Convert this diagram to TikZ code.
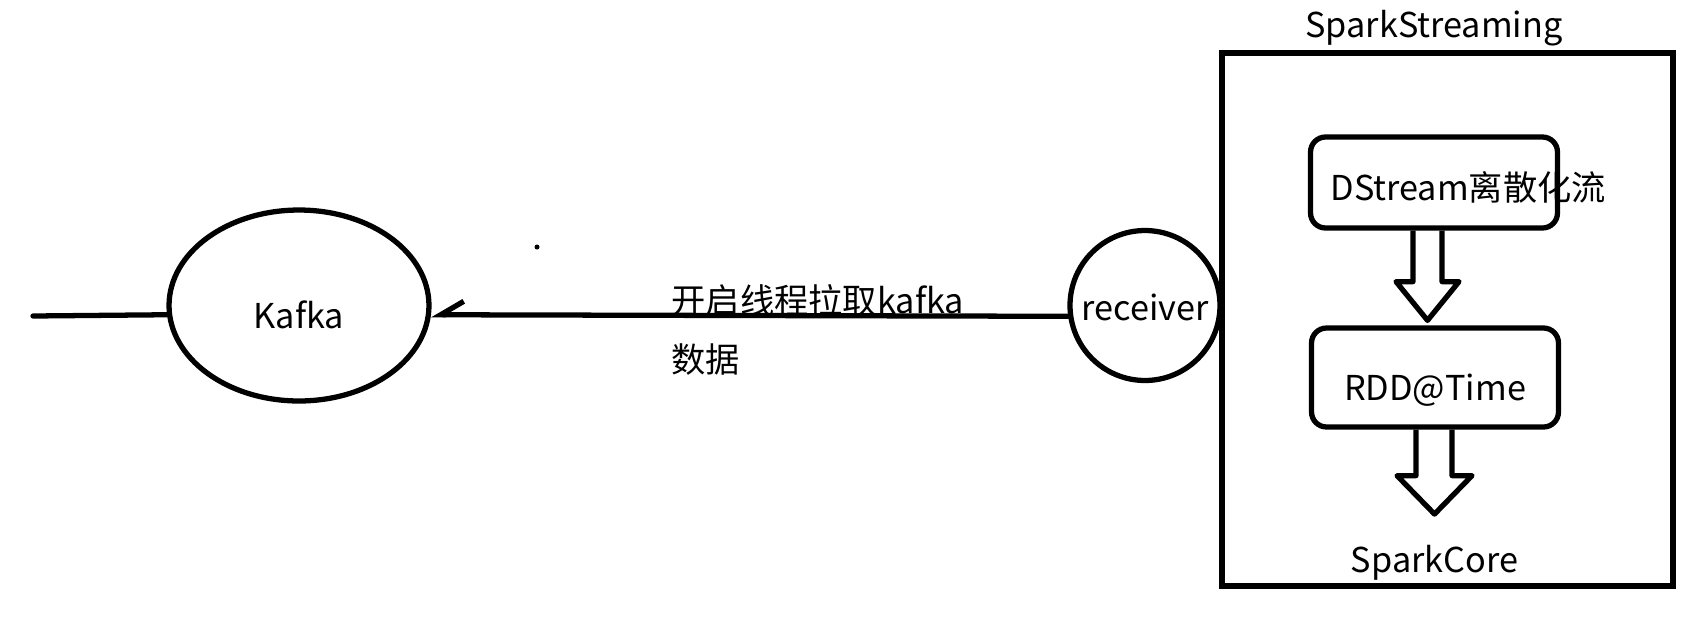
\documentclass[tikz,border=0pt]{standalone}
\usepackage{fontspec}
\setmainfont{Noto Sans CJK SC}
\usetikzlibrary{shapes.geometric,arrows.meta,positioning,calc}

\begin{document}
\begin{tikzpicture}[x=0.02cm,y=-0.02cm,line width=3pt]
\useasboundingbox (0,0) rectangle (1697,620);
\tikzset{txt/.style ={font=\fontsize{19.5}{24}\selectfont, inner sep=0}}
\tikzset{roundbox/.style ={draw, rounded corners=0.3cm, minimum width=4.94cm, inner xsep=0.4cm, inner ysep=0, txt}}
\tikzset{blockarrow/.style ={line join=round}}
\tikzset{link/.style ={line cap=round}}
% kafka side
\node[draw, ellipse, minimum width=5.2cm, minimum height=3.82cm, txt, text height=0.92cm, text depth=0cm] (kafka) at (299,305.5) {Kafka\hspace{1cm}};
\node[draw, circle, minimum size=3cm, txt, text height=0.6cm, text depth=0cm] (receiver) at (1145,305.5) {receiver};
\coordinate (tail) at (33,316);
\draw[link] (tail) -- (kafka.184.65);
\draw[link, -{Straight Barb[harpoon, swap, length=0.46cm, width=0.54cm]}] (receiver.188.05) -- (kafka.-4.65);
\node[txt, anchor=base west] (pull) at (669,313) {开启线程拉取kafka};
\node[txt, anchor=base west] (pulldata) at ($(pull.base west)+(0,59)$) {数据};
\node[fill, circle, inner sep=0, minimum size=0.1cm] (speck) at (537,247) {};
% spark streaming
\node[draw, minimum width=9.02cm, minimum height=10.66cm, inner sep=0] (streaming) at (1447.5,319.5) {};
\node[txt, anchor=base] (sstitle) at (1434,37) {SparkStreaming};
\node[roundbox, text height=1.26cm, text depth=0.56cm] (dstream) at (1434,182.5) {\makebox[4.14cm][l]{DStream离散化流}};
\node[roundbox, text height=1.44cm, text depth=0.54cm] (rdd) at (1435,377.5) {RDD@Time};
\node[txt, anchor=base] (core) at (1434.5,572) {SparkCore};
\draw[blockarrow] ($(dstream.south)+(-21,0)$) -- ++(0,51) -- ++(-17,0) -- ($(rdd.north)+(-7.5,-5)$) -- ($(dstream.south)+(25,51)$) -- ++(-17,0) -- ++(0,-51);
\draw[blockarrow] ($(rdd.south)+(-19,0)$) -- ++(0,46) -- ++(-19,0) -- ($(core.north)+(0,-28)$) -- ($(rdd.south)+(37,46)$) -- ++(-20,0) -- ++(0,-46);
\end{tikzpicture}
\end{document}
